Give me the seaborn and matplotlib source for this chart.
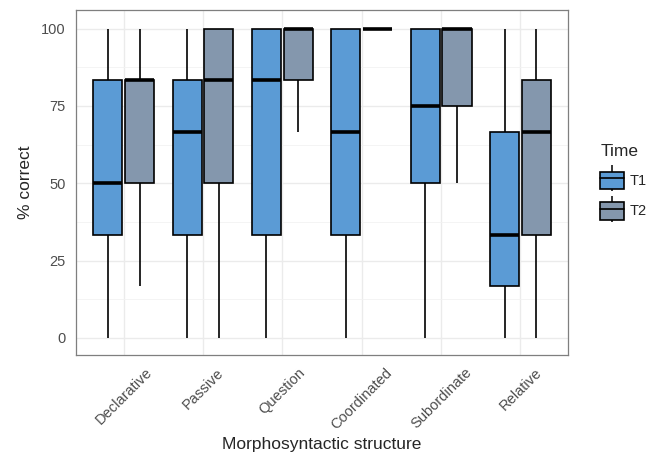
import matplotlib
matplotlib.use("Agg")

import matplotlib.pyplot as plt
import seaborn as sns
import pandas as pd
from matplotlib.patches import Patch
from matplotlib.lines import Line2D
from matplotlib.legend_handler import HandlerTuple


structures = ["Declarative", "Passive", "Question", "Coordinated", "Subordinate", "Relative"]
times = ["T1", "T2"]
colors = {"T1": "#5B9BD5", "T2": "#8497AD"}

# five-number summaries: min, q1, median, q3, max
t1_summary = [
    [0, 33.3, 50.0, 83.3, 100],
    [0, 33.3, 66.7, 83.3, 100],
    [0, 33.3, 83.3, 100, 100],
    [0, 33.3, 66.7, 100, 100],
    [0, 50.0, 75.0, 100, 100],
    [0, 16.7, 33.3, 66.7, 100],
]
t2_summary = [
    [16.7, 50.0, 83.3, 83.3, 100],
    [0, 50.0, 83.3, 100, 100],
    [66.7, 83.3, 100, 100, 100],
    [100, 100, 100, 100, 100],
    [50.0, 75.0, 100, 100, 100],
    [0, 33.3, 66.7, 83.3, 100],
]

rows = []
for time, summary in zip(times, [t1_summary, t2_summary]):
    for structure, values in zip(structures, summary):
        for v in values:
            rows.append({"structure": structure, "time": time, "correct": v})
df = pd.DataFrame(rows)

# -------------------------------
# Figure
# -------------------------------

sns.set_style("white")
plt.rcParams["font.family"] = ["Liberation Sans", "DejaVu Sans"]

fig = plt.figure(figsize=(6.52, 4.62), dpi=100)
ax = fig.add_axes([0.1166, 0.2316, 0.7546, 0.7468])

sns.boxplot(
    data=df,
    x="structure",
    y="correct",
    hue="time",
    order=structures,
    hue_order=times,
    palette=colors,
    saturation=1,
    width=0.8,
    gap=0.08,
    linecolor="black",
    linewidth=1.2,
    showfliers=False,
    medianprops=dict(linewidth=2.6),
    capprops=dict(linewidth=0),
    legend=False,
    ax=ax,
)

ax.set_xlim(-0.6, 5.6)
ax.set_ylim(-5.5, 106)
ax.set_yticks([0, 25, 50, 75, 100])
ax.set_yticks([12.5, 37.5, 62.5, 87.5], minor=True)

ax.set_axisbelow(True)
ax.grid(which="major", color="#EBEBEB", linewidth=1.0)
ax.grid(which="minor", axis="y", color="#F2F2F2", linewidth=0.6)

for spine in ax.spines.values():
    spine.set_color("#7F7F7F")
    spine.set_linewidth(0.9)

ax.tick_params(axis="both", which="major", length=4, width=0.9,
               color="#333333", labelcolor="#4D4D4D", labelsize=10.5)
ax.tick_params(axis="both", which="minor", length=0)
plt.setp(ax.get_xticklabels(), rotation=45, ha="center")

ax.set_xlabel("Morphosyntactic structure", fontsize=12.5, labelpad=4)
ax.set_ylabel("% correct", fontsize=12.5, labelpad=6)

# legend with box-style keys
handles = []
for time in times:
    whisker = Line2D([], [], color="black", marker="|", markersize=19,
                     markeredgewidth=1.1, linestyle="none")
    box = Patch(facecolor=colors[time], edgecolor="black", linewidth=1.2)
    mid = Line2D([], [], color="black", linewidth=1.2)
    handles.append((whisker, box, mid))

fig.legend(
    handles,
    times,
    handler_map={tuple: HandlerTuple(ndivide=1, pad=0)},
    title="Time",
    loc="upper left",
    bbox_to_anchor=(0.905, 0.71),
    frameon=False,
    fontsize=10.5,
    title_fontsize=12.5,
    handlelength=1.6,
    handleheight=1.5,
    handletextpad=0.4,
    labelspacing=0.85,
    borderaxespad=0.3,
    alignment="left",
)

plt.savefig("out.png", dpi=100)
plt.close()
